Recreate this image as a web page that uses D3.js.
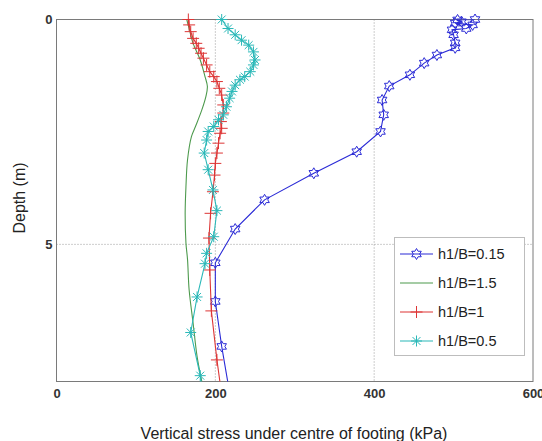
<!DOCTYPE html>
<html><head><meta charset="utf-8">
<script src="https://cdn.jsdelivr.net/npm/d3@7"></script>
<style>body{margin:0;background:#fff}svg{display:block}</style>
</head><body>
<svg id="c" width="542" height="441"></svg>
<script>
// ---- data ----
const xTicks = [0, 200, 400, 600];
const yTicks = [0, 5];
const seriesNames = ["h1/B=0.15", "h1/B=1.5", "h1/B=1", "h1/B=0.5"];

const depthA = [0, 0.01, 0.05, 0.08, 0.12, 0.2, 0.23, 0.34, 0.52, 0.63, 0.79, 0.97, 1.23, 1.48, 1.79, 2.12, 2.49, 2.94, 3.42, 4.01, 4.66, 5.41, 6.27, 7.27, 8.3];
const stressA = [527, 505, 510, 502, 524, 516, 498, 500, 502, 502, 479, 463, 445, 419, 410, 412, 408, 378, 324, 262, 225, 200, 200, 208, 218];

const depthB = [0, 0.2, 0.53, 0.9, 1.27, 1.49, 1.72, 2.01, 2.38, 2.6, 3.12, 3.72, 4.31, 4.97, 5.34, 6.01, 6.75, 7.49, 8.05];
const stressB = [164, 167, 172, 181, 187, 190, 188, 183, 175, 170, 165, 163, 162, 163, 165, 167, 172, 177, 183];

const depthC = [0, 0.12, 0.27, 0.42, 0.53, 0.64, 0.75, 0.86, 1.01, 1.16, 1.27, 1.38, 1.53, 1.68, 1.9, 2.08, 2.27, 2.42, 2.53, 2.75, 2.97, 3.2, 3.46, 3.83, 4.31, 4.86, 5.57, 6.48, 7.57, 8.6];
const stressC = [166, 167, 169, 172, 176, 179, 182, 185, 189, 193, 198, 202, 205, 208, 210, 210, 207, 208, 206, 204, 202, 200, 199, 197, 194, 192, 193, 195, 202, 210];

const depthD = [0, 0.2, 0.34, 0.46, 0.57, 0.72, 0.9, 1.01, 1.16, 1.27, 1.34, 1.46, 1.6, 1.75, 1.94, 2.12, 2.23, 2.38, 2.49, 2.68, 2.97, 3.34, 3.79, 4.25, 4.83, 5.2, 5.43, 6.17, 6.96, 7.92, 8.5];
const stressD = [208, 216, 225, 233, 242, 248, 250, 248, 244, 237, 231, 225, 221, 218, 214, 210, 204, 198, 191, 189, 186, 191, 197, 202, 198, 189, 187, 177, 169, 181, 186];

const colors = ["#2b2bd6", "#4d9a4d", "#dd3535", "#2ab8b8"];
const markers = ["hexagram", "none", "plus", "star"];

// ---- chart ----
const svg = d3.select("#c");
const font = "'Liberation Sans', Arial, sans-serif";
const x = d3.scaleLinear().domain([0, 600]).range([56.5, 533]);
const y = d3.scaleLinear().domain([0, 8.05]).range([19.5, 381.5]);

svg.append("defs").append("clipPath").attr("id", "clip")
  .append("rect").attr("x", 56.5).attr("y", 19.5).attr("width", 533 - 56.5).attr("height", 381.5 - 19.5);

// grid
const grid = svg.append("g").attr("stroke", "#9a9a9a").attr("stroke-width", 1).attr("stroke-dasharray", "1,2");
xTicks.filter(t => t > 0 && t < 600).forEach(t => {
  grid.append("line").attr("x1", x(t)).attr("x2", x(t)).attr("y1", y(0)).attr("y2", y(8.05));
});
yTicks.filter(t => t > 0).forEach(t => {
  grid.append("line").attr("x1", x(0)).attr("x2", x(600)).attr("y1", y(t)).attr("y2", y(t));
});

// axes
const xAxis = svg.append("g").attr("transform", `translate(0,${y(8.05)})`)
  .call(d3.axisBottom(x).tickValues(xTicks).tickSize(0).tickPadding(7));
const yAxis = svg.append("g").attr("transform", `translate(${x(0)},0)`)
  .call(d3.axisLeft(y).tickValues(yTicks).tickSize(0).tickPadding(4));
[xAxis, yAxis].forEach(a => {
  a.select(".domain").remove();
  a.selectAll("text").attr("font-family", font).attr("font-size", 13).attr("font-weight", "bold").attr("fill", "#333");
});

// box
svg.append("rect").attr("x", x(0)).attr("y", y(0)).attr("width", x(600) - x(0)).attr("height", y(8.05) - y(0))
  .attr("fill", "none").attr("stroke", "#7a7a7a").attr("stroke-width", 1);

// marker paths
function markerPath(type, cx, cy) {
  if (type === "hexagram") {
    const R = 5.5, r = R / Math.sqrt(3);
    const pts = [];
    for (let i = 0; i < 12; i++) {
      const a = -Math.PI / 2 + i * Math.PI / 6;
      const rr = i % 2 === 0 ? R : r;
      pts.push([cx + rr * Math.cos(a), cy + rr * Math.sin(a)]);
    }
    return "M" + pts.map(p => p.join(",")).join("L") + "Z";
  }
  if (type === "plus") {
    const s = 6;
    return `M${cx - s},${cy}L${cx + s},${cy}M${cx},${cy - s}L${cx},${cy + s}`;
  }
  if (type === "star") {
    const s = 5.5, d = s * 0.72;
    return `M${cx - s},${cy}L${cx + s},${cy}M${cx},${cy - s}L${cx},${cy + s}M${cx - d},${cy - d}L${cx + d},${cy + d}M${cx - d},${cy + d}L${cx + d},${cy - d}`;
  }
  return "";
}

const seriesData = [
  d3.zip(stressA, depthA), d3.zip(stressB, depthB), d3.zip(stressC, depthC), d3.zip(stressD, depthD)
];

const plot = svg.append("g");
seriesData.forEach((pts, i) => {
  const line = d3.line().x(d => x(d[0])).y(d => y(d[1]));
  if (i === 1) line.curve(d3.curveCatmullRom.alpha(0.5));
  plot.append("path").attr("d", line(pts)).attr("fill", "none")
    .attr("stroke", colors[i]).attr("stroke-width", 1.1).attr("clip-path", "url(#clip)");
  if (markers[i] !== "none") {
    plot.append("g").selectAll("path").data(pts.filter(d => d[1] <= 8.05)).join("path")
      .attr("d", d => markerPath(markers[i], x(d[0]), y(d[1])))
      .attr("fill", "none").attr("stroke", colors[i]).attr("stroke-width", 1);
  }
});

// legend
const lg = svg.append("g");
lg.append("rect").attr("x", 394.5).attr("y", 237.5).attr("width", 130).attr("height", 118)
  .attr("fill", "#fff").attr("stroke", "#bdbdbd").attr("stroke-width", 1);
seriesNames.forEach((name, i) => {
  const cy = 254 + i * 29;
  lg.append("line").attr("x1", 400).attr("x2", 433).attr("y1", cy).attr("y2", cy)
    .attr("stroke", colors[i]).attr("stroke-width", 1.1);
  if (markers[i] !== "none") {
    lg.append("path").attr("d", markerPath(markers[i], 416.5, cy)).attr("fill", "none")
      .attr("stroke", colors[i]).attr("stroke-width", 1);
  }
  lg.append("text").attr("x", 438).attr("y", cy + 5).text(name)
    .attr("font-family", font).attr("font-size", 14.5).attr("fill", "#222");
});

// axis titles
svg.append("text").attr("x", 294).attr("y", 439).attr("text-anchor", "middle")
  .attr("font-family", font).attr("font-size", 16).attr("fill", "#222")
  .text("Vertical stress under centre of footing (kPa)");
svg.append("text").attr("transform", "translate(25,198) rotate(-90)").attr("text-anchor", "middle")
  .attr("font-family", font).attr("font-size", 16).attr("fill", "#222")
  .text("Depth (m)");
</script>
</body></html>
